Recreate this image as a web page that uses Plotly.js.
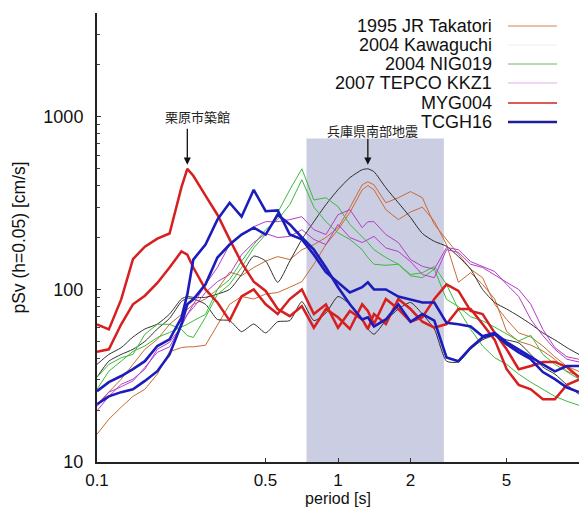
<!DOCTYPE html>
<html><head><meta charset="utf-8">
<script src="https://cdn.plot.ly/plotly-3.0.1.min.js"></script>
<style>html,body{margin:0;padding:0;background:#fff}#chart{width:579px;height:507px}</style>
</head><body><div id="chart"></div>
<script>
// period grid [s]
const periods = [0.1,0.112,0.126,0.141,0.158,0.178,0.2,0.224,0.237,0.251,0.282,0.316,0.355,0.398,0.447,0.501,0.562,0.631,0.708,0.794,0.891,1.0,1.12,1.26,1.33,1.41,1.58,1.78,2.0,2.24,2.51,2.82,3.16,3.55,3.98,4.47,5.01,5.62,6.31,7.08,7.94,8.91,10.0];

// pSv (h=0.05) [cm/s], two components per record
const takatoriA = [14.5,17.7,20.8,24,26.4,32.3,43.6,46,46.5,46.5,47.5,62.8,82,91,88,94,96,103,111,140,182,222,279,378,400,378,290,254,281,300,248,182,110,125,107,88,57,50,47.6,44,39.4,33.5,31.6];
const takatoriB = [21.6,25.4,30.2,36.8,45,51.4,62.8,71.7,76.7,82,88,100,126,120,134,146,155,149,170,182,200,228,298,404,421,404,318,340,369,340,238,195,159,131,117,82,67,56,53,47,40.7,35.8,33.5];
const kawaguchiA = [36.8,42,46,53,59,63,72,88,91,90,90,94,100,122,156,146,110,146,195,247,310,378,444,494,500,481,388,318,261,211,190,178,155,131,100,84,77,70,63,56,51,46,42];
const kawaguchiB = [31,38.4,42,45,50,59,68,85,89,88,82,67,66,57,63,56,65,66,85,66,73,91,82,67,59,55,66,77,84,72,59,38.4,38,45,51,54,51,49,42,35.5,32.3,28,24.7];
const nig019A = [31,36.8,40.2,42,55,62.8,62.8,58.7,54,52.7,69,93.6,107,134,174,208,279,378,500,330,340,302,238,203,187,170,153,140,122,125,136,107,76.7,58.7,47,40.2,36.8,32.3,29,26.4,24,22.5,21.3];
const nig019B = [26.4,33.6,38.4,43.8,47,52.7,56.3,60.3,62.8,65.8,71.7,100,114,146,182,222,254,310,432,300,247,213,195,170,153,140,138,140,120,117,131,87.6,79.5,69.5,65.8,60.5,55,50.3,54.2,42,36.8,33.5,30.2];
const tepcoA = [19.8,24,28.2,30.2,34.5,45,49.4,61,71.7,82,107,134,182,208,231,247,247,254,264,222,208,271,290,228,247,247,208,187,149,136,131,175,170,145,136,127,107,91,67,54,45,39.4,38];
const tepcoB = [21,25.4,27.3,29.5,35.3,43.2,46.5,62.8,71.7,78.4,96,111,122,159,187,211,200,203,222,195,182,238,200,187,195,203,174,166,145,122,117,170,164,140,134,122,110,100,82,58.7,46,40.7,39.4];
const myg004A = [62.8,58.7,87.6,150,177,197,211,390,500,456,350,271,195,143,111,98,77,70,80,60,77,69,59,82,75,63,88,77,65,69,88,107,98,75,72,56,45,34.5,36,38,38,35.5,31];
const myg004B = [43.6,45,62.8,82,92,109,134,166,159,134,100,84,66,91,100,82,72,88,100,72,82,60,75,67,59,72,63,88,77,65,60,63,77,77,63,51,34.5,28,26.4,23.1,23.1,28,30];
const tcgh16A = [25.7,29,31.5,34.5,38.4,47,51.4,68.5,93.6,149,182,254,318,264,378,284,287,208,195,159,126,110,96,103,110,100,100,91,87.6,84,84,64,62.8,61,53.5,56,49.4,45,40.7,36.8,33.5,36,36];
const tcgh16B = [21.6,24,25.4,26.4,29.5,33.6,42,62.8,82,87.6,107,153,182,208,228,208,271,238,200,170,134,103,82,67,69,61,67,82,65,72,66,40.4,38.4,46,52.7,55,48.1,43.2,39.4,33.2,30.2,27,25.4];

const legendNames = ['1995 JR Takatori','2004 Kawaguchi','2004 NIG019','2007 TEPCO KKZ1','MYG004','TCGH16'];
const xTickVals = [0.1,0.5,1,2,5];
const xTickText = ['0.1','0.5','1','2','5'];
const yTickVals = [10,100,1000];
const yTickText = ['10','100','1000'];
const bandStart = 0.74, bandEnd = 2.75, bandTop = 750;
const noteLabels = ['栗原市築館','兵庫県南部地震'];
const notePeriods = [0.237, 1.33];
const noteValues = [528, 528];

const styles = [
  {color:'#c96a35', width:1, legColor:'#d9804e', legWidth:1},
  {color:'#1a1a1a', width:0.9, legColor:'rgba(0,0,0,0.07)', legWidth:1},
  {color:'#3cba3c', width:1, legColor:'#62bb62', legWidth:1},
  {color:'#b33dc6', width:1, legColor:'#e8a8f0', legWidth:1},
  {color:'#d61f1f', width:2.5, legColor:'#cc2424', legWidth:1.6},
  {color:'#1c1cbd', width:2.6, legColor:'#1e1e96', legWidth:2.6}
];
const groups = [[takatoriA,takatoriB],[kawaguchiA,kawaguchiB],[nig019A,nig019B],[tepcoA,tepcoB],[myg004A,myg004B],[tcgh16A,tcgh16B]];

const traces = [];
groups.forEach((g, i) => {
  g.forEach(vals => {
    traces.push({
      x: periods, y: vals, type: 'scatter', mode: 'lines',
      name: legendNames[i], showlegend: false, hoverinfo: 'skip',
      line: {color: styles[i].color, width: styles[i].width, shape: i === 1 ? 'spline' : 'linear', smoothing: 0.6}
    });
  });
});

const font = 'Liberation Sans, Arial, Helvetica, sans-serif';
const cjk = 'Noto Sans CJK JP, sans-serif';

const shapes = [{
  type:'rect', xref:'x', yref:'y', layer:'below',
  x0: bandStart, x1: bandEnd, y0: 10, y1: bandTop,
  fillcolor:'rgb(203,205,226)', opacity:1, line:{width:0}
}];
const annotations = [];
const legRows = [0.971, 0.9287, 0.8864, 0.8441, 0.7996, 0.7572];
legendNames.forEach((n, i) => {
  annotations.push({xref:'paper', yref:'paper', x:0.8216, y:legRows[i], xanchor:'right', yanchor:'middle',
    text:n, showarrow:false, borderpad:0, font:{family:font, size:18, color:'#111'}});
  shapes.push({type:'line', xref:'paper', yref:'paper', x0:0.8527, x1:0.9544, y0:legRows[i], y1:legRows[i],
    line:{color:styles[i].legColor, width:styles[i].legWidth}});
});
const notePaperX = [0.2075, 0.5726];
const notePaperY = [0.7684, 0.7394];
const arrowLen = [-38, -28];
noteLabels.forEach((t, i) => {
  annotations.push({xref:'paper', yref:'paper', x:notePaperX[i], y:notePaperY[i], xanchor:'center', yanchor:'middle',
    text:t, showarrow:false, font:{family:cjk, size:13, color:'#222'}});
  annotations.push({xref:'x', yref:'y', x:Math.log10(notePeriods[i]), y:Math.log10(noteValues[i]),
    text:' ', font:{size:1}, showarrow:true, arrowhead:2, arrowsize:1.1, arrowwidth:1.3, arrowcolor:'#111',
    ax:0, ay:arrowLen[i], standoff:0});
});

const layout = {
  width:579, height:507,
  margin:{l:97, r:0, t:13, b:45, pad:0},
  paper_bgcolor:'#fff', plot_bgcolor:'#fff',
  showlegend:false,
  font:{family:font, color:'#111'},
  xaxis:{type:'log', range:[-1, 1], tickmode:'array', tickvals:xTickVals, ticktext:xTickText,
    ticks:'inside', ticklen:4, tickwidth:1, tickcolor:'#333', showgrid:false, zeroline:false,
    showline:true, linecolor:'#222', linewidth:1.5, tickfont:{family:font, size:17, color:'#111'},
    ticklabelstandoff:2, automargin:false,
    title:{text:'period [s]', font:{family:font, size:16, color:'#111'}, standoff:8}},
  yaxis:{type:'log', range:[1, Math.log10(4000)], tickmode:'array', tickvals:yTickVals, ticktext:yTickText,
    ticks:'inside', ticklen:4, tickwidth:1, tickcolor:'#333', showgrid:false, zeroline:false,
    showline:true, linecolor:'#222', linewidth:2, tickfont:{family:font, size:18, color:'#111'},
    ticklabelstandoff:8, automargin:false,
    minor:{ticks:'inside', ticklen:3, tickcolor:'#444', dtick:'D1', showgrid:false},
    title:{text:'pSv (h=0.05) [cm/s]', font:{family:font, size:17.5, color:'#111'}, standoff:13}},
  shapes:shapes, annotations:annotations
};
Plotly.newPlot('chart', traces, layout, {staticPlot:true, displayModeBar:false});
</script></body></html>
